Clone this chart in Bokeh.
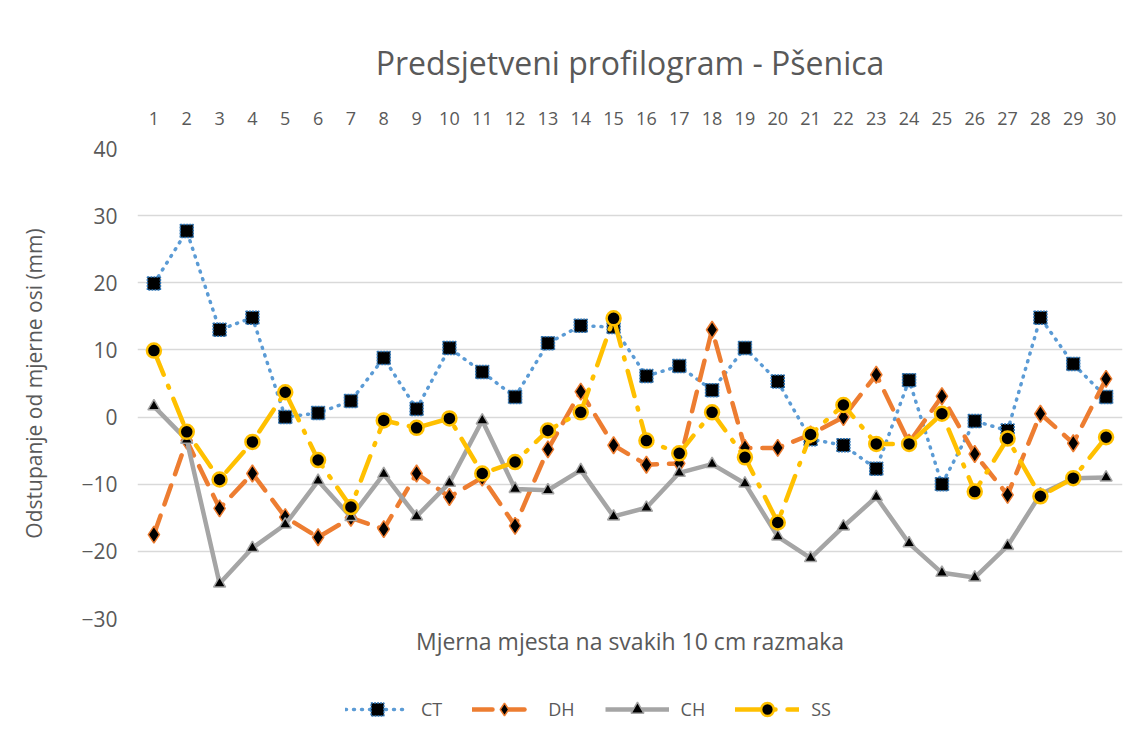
from bokeh.plotting import figure
from bokeh.models import Range1d, FactorRange, Legend, LegendItem, Title, FixedTicker
from bokeh.layouts import column
from bokeh.embed import file_html
from bokeh.resources import INLINE

positions = [str(i) for i in range(1, 31)]
ct = [19.9, 27.7, 13.0, 14.8, 0.0, 0.6, 2.4, 8.8, 1.2, 10.3,
      6.7, 3.0, 11.0, 13.6, 13.4, 6.1, 7.6, 4.0, 10.3, 5.3,
      -3.3, -4.2, -7.7, 5.5, -10.0, -0.6, -2.0, 14.8, 7.9, 3.0]
dh = [-17.5, -3.5, -13.6, -8.4, -14.9, -17.9, -15.0, -16.7, -8.4, -11.9,
      -9.0, -16.2, -4.8, 3.8, -4.2, -7.1, -6.9, 13.0, -4.6, -4.6,
      -2.6, 0.0, 6.3, -3.8, 3.1, -5.5, -11.6, 0.5, -3.9, 5.7]
ch = [1.6, -3.4, -24.8, -19.5, -16.0, -9.5, -14.9, -8.5, -14.8, -9.8,
      -0.5, -10.7, -10.9, -7.9, -14.8, -13.5, -8.3, -7.0, -9.9, -17.8,
      -21.0, -16.3, -11.9, -18.8, -23.2, -23.9, -19.2, -11.5, -9.1, -9.0]
ss = [9.9, -2.2, -9.3, -3.7, 3.7, -6.4, -13.4, -0.5, -1.6, -0.2,
      -8.4, -6.7, -2.0, 0.7, 14.7, -3.5, -5.4, 0.7, -6.0, -15.7,
      -2.6, 1.8, -4.0, -4.0, 0.5, -11.1, -3.2, -11.8, -9.1, -3.0]
y_ticks = [-30, -20, -10, 0, 10, 20, 30, 40]
series_names = ["CT", "DH", "CH", "SS"]

FONT = "Open Sans"
TXT = "#595959"

STYLES = {
    "CT": dict(line=dict(line_color="#5b9bd5", line_width=3.5, line_dash="1 7", line_cap="round"),
               mark=dict(marker="square", size=13, fill_color="black", line_color="#2f75b5",
                         line_width=1.5, line_dash="2 1")),
    "DH": dict(line=dict(line_color="#ed7d31", line_width=4.5, line_dash="20 12", line_cap="round"),
               mark=dict(marker="diamond", size=17, fill_color="black", line_color="#ed7d31",
                         line_width=1.5)),
    "CH": dict(line=dict(line_color="#a5a5a5", line_width=4.5),
               mark=dict(marker="triangle", size=12, fill_color="black", line_color="#a5a5a5",
                         line_width=1.5)),
    "SS": dict(line=dict(line_color="#ffc000", line_width=4.5, line_dash="26 12 2 12", line_cap="round"),
               mark=dict(marker="circle", size=14, fill_color="black", line_color="#ffc000",
                         line_width=2.5)),
}
data = {"CT": ct, "DH": dh, "CH": ch, "SS": ss}

p = figure(width=1129, height=670,
           x_range=FactorRange(*positions, range_padding=0),
           y_range=Range1d(-30, 40),
           x_axis_location="above",
           output_backend="svg", toolbar_location=None,
           min_border_left=137, min_border_right=7,
           min_border_top=148, min_border_bottom=52)

p.outline_line_color = None
p.background_fill_color = "white"
p.border_fill_color = "white"

p.xgrid.grid_line_color = None
p.ygrid.grid_line_color = "#d9d9d9"
p.ygrid.grid_line_width = 1.3

p.yaxis.ticker = FixedTicker(ticks=y_ticks)
for ax in (p.xaxis[0], p.yaxis[0]):
    ax.axis_line_color = None
    ax.major_tick_line_color = None
    ax.minor_tick_line_color = None
    ax.major_label_text_color = TXT
    ax.major_label_text_font = FONT
    ax.axis_label_text_color = TXT
    ax.axis_label_text_font = FONT
    ax.axis_label_text_font_style = "normal"

p.xaxis.major_label_text_font_size = "18px"
p.xaxis.major_label_standoff = 18
p.yaxis.major_label_text_font_size = "21px"
p.yaxis.major_label_standoff = 14
p.yaxis.axis_label = "Odstupanje od mjerne osi (mm)"
p.yaxis.axis_label_text_font_size = "21px"
p.yaxis.axis_label_standoff = 30

p.title = Title(text="Predsjetveni profilogram - Pšenica", align="center",
                text_font=FONT, text_font_size="32px", text_color=TXT,
                text_font_style="normal", standoff=49)

xt = Title(text="Mjerna mjesta na svakih 10 cm razmaka", align="center",
           text_font=FONT, text_font_size="23px", text_color=TXT,
           text_font_style="normal", standoff=8)
p.add_layout(xt, "below")

for name in series_names:
    p.line(positions, data[name], **STYLES[name]["line"])
    p.scatter(positions, data[name], **STYLES[name]["mark"])

# legend strip: same series drawn in a figure whose y-range lies far above
# the data, so only the legend shows
p2 = figure(width=1129, height=62,
            x_range=FactorRange(*positions, range_padding=0),
            y_range=Range1d(1000, 1001),
            x_axis_type=None, y_axis_type=None,
            output_backend="svg", toolbar_location=None,
            min_border=0, min_border_left=0, min_border_right=0,
            min_border_top=0, min_border_bottom=0)
p2.grid.visible = False
p2.outline_line_color = None
items = []
for name in series_names:
    rl = p2.line(positions, data[name], **STYLES[name]["line"])
    rm = p2.scatter(positions, data[name], **STYLES[name]["mark"])
    items.append(LegendItem(label=name, renderers=[rl, rm], index=0))

legend = Legend(items=items, orientation="horizontal", location=(208, 7),
                glyph_width=64, glyph_height=32, label_standoff=12, spacing=30,
                label_text_font=FONT, label_text_font_size="18px", label_text_color=TXT,
                border_line_color=None, background_fill_alpha=0, margin=0, padding=2)
p2.add_layout(legend, "center")

open("out.html", "w").write(file_html(column(p, p2, spacing=0), INLINE))
